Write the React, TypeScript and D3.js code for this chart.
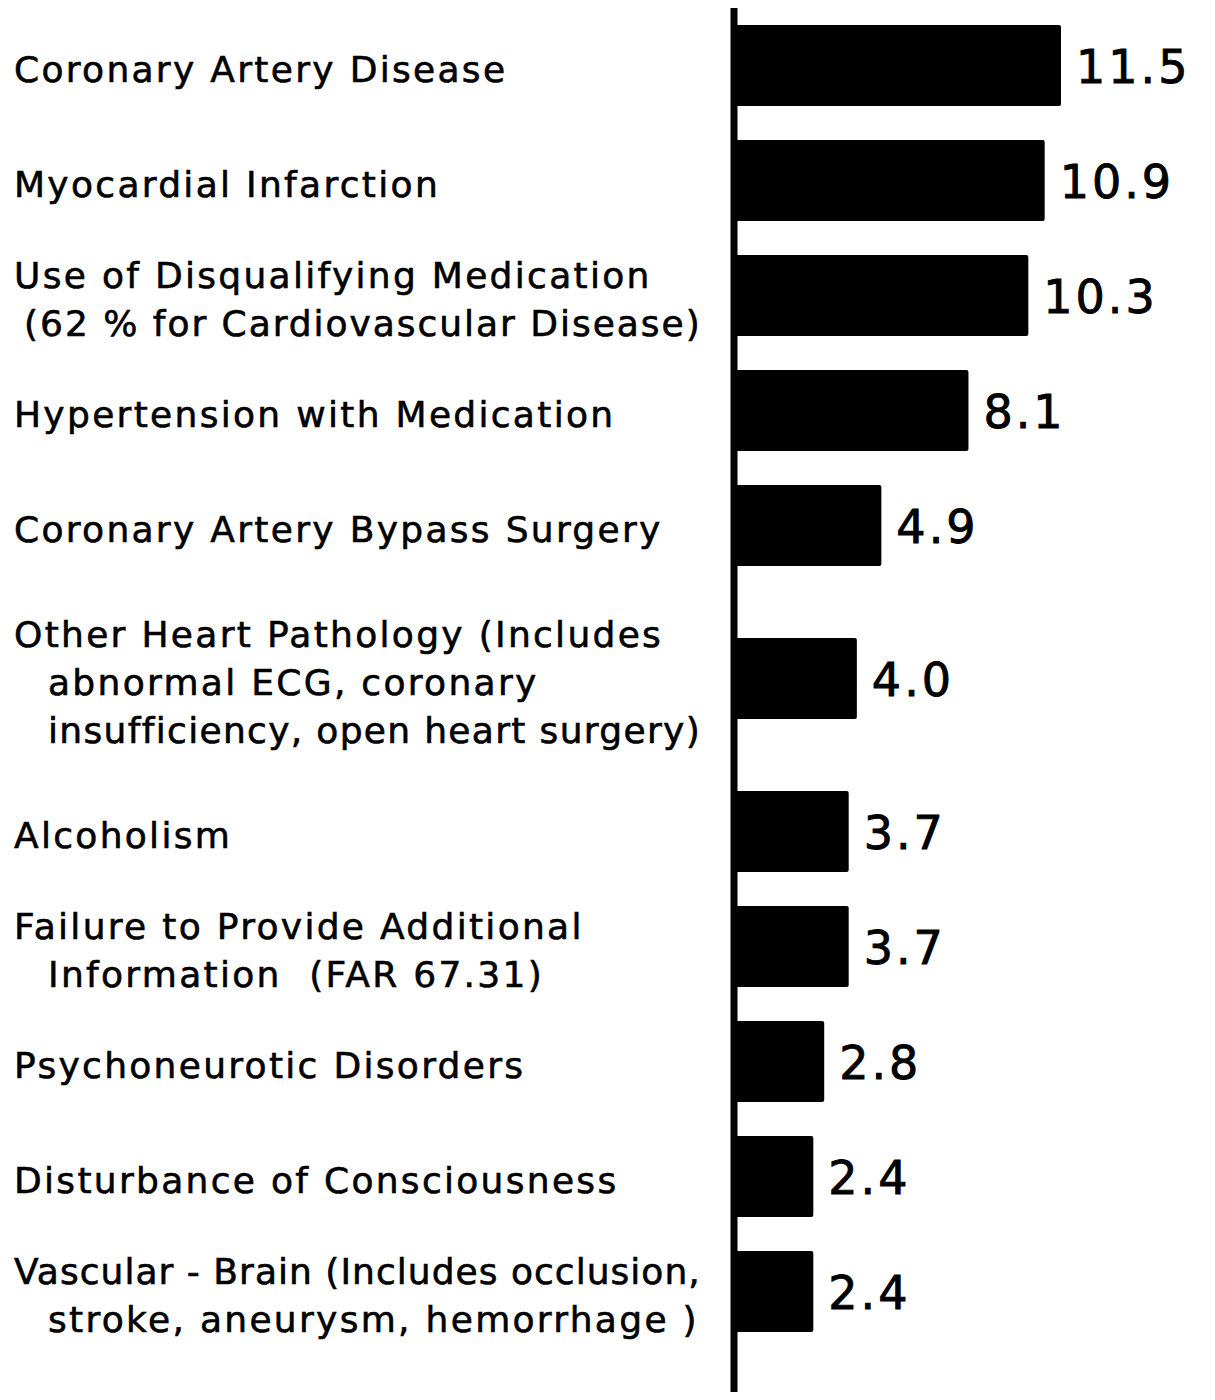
import React, { useEffect, useRef } from 'react';
import * as d3 from 'd3';

// categories (one entry per line of the label) and values
const categories: string[][] = [
  ['Coronary Artery Disease'],
  ['Myocardial Infarction'],
  ['Use of Disqualifying Medication', '(62 % for Cardiovascular Disease)'],
  ['Hypertension with Medication'],
  ['Coronary Artery Bypass Surgery'],
  ['Other Heart Pathology (Includes', 'abnormal ECG, coronary', 'insufficiency, open heart surgery)'],
  ['Alcoholism'],
  ['Failure to Provide Additional', 'Information  (FAR 67.31)'],
  ['Psychoneurotic Disorders'],
  ['Disturbance of Consciousness'],
  ['Vascular - Brain (Includes occlusion,', 'stroke, aneurysm, hemorrhage )'],
];
const values: number[] = [11.5, 10.9, 10.3, 8.1, 4.9, 4.0, 3.7, 3.7, 2.8, 2.4, 2.4];
const valueLabels: string[] = ['11.5', '10.9', '10.3', '8.1', '4.9', '4.0', '3.7', '3.7', '2.8', '2.4', '2.4'];

const App: React.FC = () => {
  const svgRef = useRef<SVGSVGElement>(null);

  useEffect(() => {
    if (!svgRef.current) return;
    d3.select(svgRef.current).selectAll('*').remove();

    const width = 1215;
    const height = 1400;
    const axisX = 734;
    const rowStep = 115;
    const barHeight = 81;
    const top = 8;
    const labelX = 14;
    const lineGap = 48;
    const labelFont = 36;
    const valueFont = 46;
    const font = '"DejaVu Sans", Arial, sans-serif';

    // rows with a 3-line label take more room
    const weights = categories.map(c => 1 + Math.max(0, c.length - 2) * 0.66);
    const starts: number[] = [];
    weights.reduce((acc, w) => { starts.push(acc); return acc + w; }, 0);
    const total = d3.sum(weights);

    const y = d3.scaleLinear().domain([0, total]).range([top, top + total * rowStep]);
    const x = d3.scaleLinear().domain([0, 11.5]).range([748, 1061]);

    const svg = d3.select(svgRef.current)
      .attr('width', width)
      .attr('height', height)
      .style('display', 'block')
      .style('background', '#fff');

    const rows = svg.selectAll('g.row')
      .data(values)
      .join('g')
      .attr('class', 'row')
      .attr('transform', (_, i) => `translate(0,${y(starts[i] + weights[i] / 2)})`);

    rows.append('rect')
      .attr('x', axisX)
      .attr('y', -barHeight / 2)
      .attr('width', d => x(d) - axisX)
      .attr('height', barHeight)
      .attr('rx', 2)
      .attr('fill', '#000');

    rows.append('text')
      .attr('x', d => x(d) + 15)
      .attr('y', 0)
      .attr('dy', '0.38em')
      .attr('font-family', font)
      .attr('font-size', valueFont)
      .attr('letter-spacing', 3)
      .attr('fill', '#000')
      .attr('stroke', '#000')
      .attr('stroke-width', 0.9)
      .text((_, i) => valueLabels[i]);

    rows.each(function (_, i) {
      const lines = categories[i];
      const g = d3.select(this);
      const offset = -((lines.length - 1) * lineGap) / 2 + 4;
      lines.forEach((line, j) => {
        const indent = j === 0 ? 0 : line.startsWith('(') ? 10 : 34;
        const t = g.append('text')
          .attr('x', labelX + indent)
          .attr('y', offset + j * lineGap)
          .attr('dy', '0.36em')
          .attr('xml:space', 'preserve')
          .style('white-space', 'pre')
          .attr('font-family', font)
          .attr('font-size', labelFont)
          .attr('letter-spacing', 2.3)
          .attr('fill', '#000')
          .attr('stroke', '#000')
          .attr('stroke-width', 0.6)
          .text(line);
        // keep long lines clear of the axis
        const maxW = axisX - 32 - (labelX + indent);
        const node = t.node() as SVGTextElement;
        if (node.getComputedTextLength() > maxW) {
          t.attr('textLength', maxW).attr('lengthAdjust', 'spacing');
        }
      });
    });

    // vertical axis line
    svg.append('line')
      .attr('x1', axisX)
      .attr('x2', axisX)
      .attr('y1', 4)
      .attr('y2', height - 3)
      .attr('stroke', '#000')
      .attr('stroke-width', 7)
      .attr('stroke-linecap', 'round');
  }, []);

  return (
    <div style={{ margin: -8 }}>
      <svg ref={svgRef}></svg>
    </div>
  );
};

export default App;
